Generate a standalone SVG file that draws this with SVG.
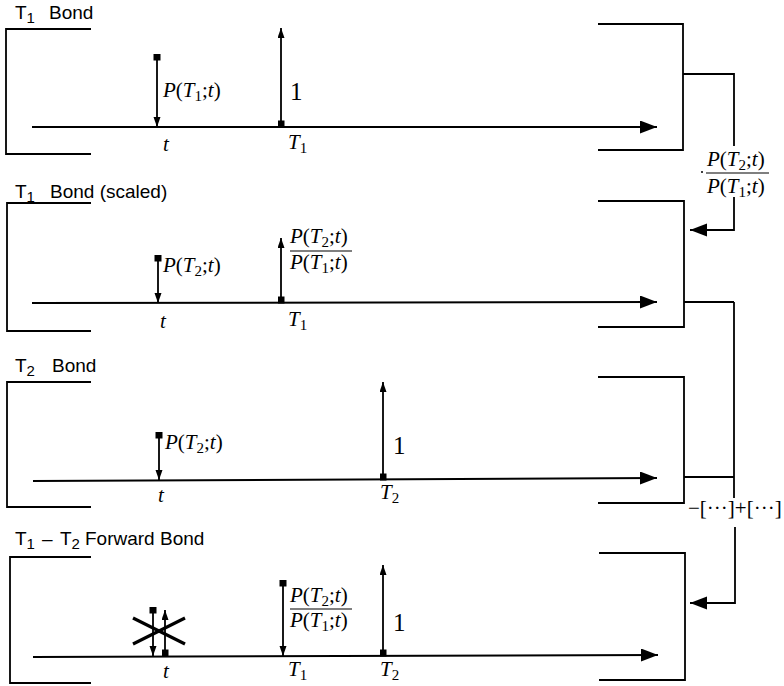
<svg xmlns="http://www.w3.org/2000/svg" width="784" height="686" viewBox="0 0 784 686">
<defs>
<style>
.br{fill:none;stroke:#000;stroke-width:1.8}
.tl{stroke:#000;stroke-width:2}
.ar{stroke:#000;stroke-width:1.8;marker-start:url(#sq);marker-end:url(#ah)}
.cn{fill:none;stroke:#000;stroke-width:1.8}
.ttl{font-family:"Liberation Sans",Arial,sans-serif;font-size:19px;fill:#000}
.sb{font-size:15px}
.m{font-family:"Liberation Serif","Times New Roman",serif;font-size:21px;fill:#000}
.i{font-style:italic}
.ms{font-size:15px}
.big{font-family:"Liberation Serif","Times New Roman",serif;font-size:25px;fill:#000}
.x{stroke:#000;stroke-width:3.2}
</style>
<marker id="ah" markerUnits="userSpaceOnUse" markerWidth="12" markerHeight="8" refX="10" refY="3.5" orient="auto"><path d="M0,0 L10,3.5 L0,7 z" fill="#000"/></marker>
<marker id="sq" markerUnits="userSpaceOnUse" markerWidth="8" markerHeight="8" refX="3.5" refY="3.5" orient="auto"><rect x="0" y="0" width="7" height="7" fill="#000"/></marker>
<marker id="big" markerUnits="userSpaceOnUse" markerWidth="18" markerHeight="14" refX="17" refY="6.5" orient="auto"><path d="M0,0 L17,6.5 L0,13 z" fill="#000"/></marker>
</defs>

<g id="panel1">
<text class="ttl" x="15" y="19">T<tspan class="sb" dy="4">1</tspan><tspan x="49" dy="-4">Bond</tspan></text>
<polyline class="br" points="91,29 6,29 6,154 91,154"/>
<polyline class="br" points="598,24 683,24 683,150 598,150"/>
<line class="tl" x1="32" y1="127" x2="657" y2="127" marker-end="url(#big)"/>
<line class="ar" x1="157" y1="57" x2="157" y2="127"/>
<text class="m" x="163" y="97"><tspan class="i">P</tspan>(<tspan class="i">T</tspan><tspan class="ms" dy="4">1</tspan><tspan dy="-4">;</tspan><tspan class="i">t</tspan>)</text>
<text class="m i" x="163" y="151">t</text>
<line class="ar" x1="281" y1="124" x2="281" y2="28"/>
<text class="big" x="290" y="100">1</text>
<text class="m" x="288" y="149"><tspan class="i">T</tspan><tspan class="ms" dy="4">1</tspan></text>
</g>

<g id="panel2">
<text class="ttl" x="15" y="198">T<tspan class="sb" dy="4">1</tspan><tspan x="50" dy="-4">Bond (scaled)</tspan></text>
<polyline class="br" points="91,203 7,203 7,331 91,331"/>
<polyline class="br" points="598,201 684,201 684,327 598,327"/>
<line class="tl" x1="32" y1="303" x2="657" y2="302" marker-end="url(#big)"/>
<line class="ar" x1="158" y1="258" x2="158" y2="303"/>
<text class="m" x="163" y="272"><tspan class="i">P</tspan>(<tspan class="i">T</tspan><tspan class="ms" dy="4">2</tspan><tspan dy="-4">;</tspan><tspan class="i">t</tspan>)</text>
<text class="m i" x="160" y="328">t</text>
<line class="ar" x1="281" y1="300" x2="281" y2="238"/>
<text class="m" x="290" y="243"><tspan class="i">P</tspan>(<tspan class="i">T</tspan><tspan class="ms" dy="4">2</tspan><tspan dy="-4">;</tspan><tspan class="i">t</tspan>)</text>
<line x1="290" y1="251" x2="352" y2="251" stroke="#000" stroke-width="1.2"/>
<text class="m" x="290" y="269"><tspan class="i">P</tspan>(<tspan class="i">T</tspan><tspan class="ms" dy="4">1</tspan><tspan dy="-4">;</tspan><tspan class="i">t</tspan>)</text>
<text class="m" x="288" y="326"><tspan class="i">T</tspan><tspan class="ms" dy="4">1</tspan></text>
</g>

<g id="panel3">
<text class="ttl" x="15" y="372">T<tspan class="sb" dy="4">2</tspan><tspan x="52" dy="-4">Bond</tspan></text>
<polyline class="br" points="91,382 7,382 7,507 91,507"/>
<polyline class="br" points="598,377 684,377 684,503 598,503"/>
<line class="tl" x1="33" y1="481" x2="657" y2="478" marker-end="url(#big)"/>
<line class="ar" x1="159" y1="435" x2="159" y2="480"/>
<text class="m" x="165" y="449"><tspan class="i">P</tspan>(<tspan class="i">T</tspan><tspan class="ms" dy="4">2</tspan><tspan dy="-4">;</tspan><tspan class="i">t</tspan>)</text>
<text class="m i" x="158" y="502">t</text>
<line class="ar" x1="383" y1="477" x2="383" y2="382"/>
<text class="big" x="393" y="454">1</text>
<text class="m" x="380" y="499"><tspan class="i">T</tspan><tspan class="ms" dy="4">2</tspan></text>
</g>

<g id="panel4">
<text class="ttl" x="15" y="545">T<tspan class="sb" dy="4">1</tspan><tspan x="42" dy="-4">–</tspan><tspan x="60">T</tspan><tspan class="sb" dy="4">2</tspan><tspan x="85" dy="-4">Forward Bond</tspan></text>
<polyline class="br" points="91,557 10,557 10,683 91,683"/>
<polyline class="br" points="599,553 685,553 685,680 599,680"/>
<line class="tl" x1="33" y1="657" x2="658" y2="655" marker-end="url(#big)"/>
<line class="ar" x1="153" y1="610" x2="153" y2="656"/>
<line class="ar" x1="165" y1="653" x2="165" y2="610"/>
<line class="x" x1="133" y1="618" x2="185" y2="644"/>
<line class="x" x1="133" y1="644" x2="185" y2="618"/>
<text class="m i" x="163" y="678">t</text>
<line class="ar" x1="283" y1="583" x2="283" y2="656"/>
<text class="m" x="290" y="602"><tspan class="i">P</tspan>(<tspan class="i">T</tspan><tspan class="ms" dy="4">2</tspan><tspan dy="-4">;</tspan><tspan class="i">t</tspan>)</text>
<line x1="290" y1="609" x2="352" y2="609" stroke="#000" stroke-width="1.2"/>
<text class="m" x="290" y="627"><tspan class="i">P</tspan>(<tspan class="i">T</tspan><tspan class="ms" dy="4">1</tspan><tspan dy="-4">;</tspan><tspan class="i">t</tspan>)</text>
<text class="m" x="288" y="676"><tspan class="i">T</tspan><tspan class="ms" dy="4">1</tspan></text>
<line class="ar" x1="383" y1="653" x2="383" y2="565"/>
<text class="big" x="393" y="631">1</text>
<text class="m" x="380" y="676"><tspan class="i">T</tspan><tspan class="ms" dy="4">2</tspan></text>
</g>

<g id="connectors">
<polyline class="cn" points="683,74 734,74 734,146"/>
<polyline class="cn" points="734,197 734,230 690,230" marker-end="url(#big)"/>
<circle cx="702" cy="172" r="1" fill="#000"/>
<text class="m" x="707" y="166"><tspan class="i">P</tspan>(<tspan class="i">T</tspan><tspan class="ms" dy="4">2</tspan><tspan dy="-4">;</tspan><tspan class="i">t</tspan>)</text>
<line x1="706" y1="173" x2="769" y2="173" stroke="#000" stroke-width="1.2"/>
<text class="m" x="707" y="193"><tspan class="i">P</tspan>(<tspan class="i">T</tspan><tspan class="ms" dy="4">1</tspan><tspan dy="-4">;</tspan><tspan class="i">t</tspan>)</text>
<polyline class="cn" points="684,302 734,302"/>
<polyline class="cn" points="684,477 734,477"/>
<line class="cn" x1="734" y1="302" x2="734" y2="498"/>
<text class="m" x="688" y="515" font-size="19">−[···]+[···]</text>
<polyline class="cn" points="735,527 735,603 690,603" marker-end="url(#big)"/>
</g>
</svg>
